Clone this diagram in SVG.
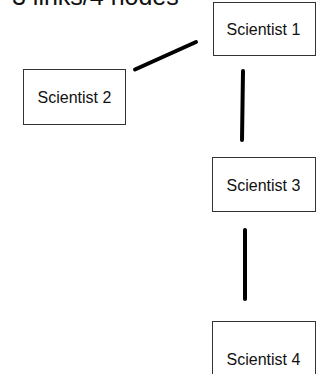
<svg xmlns="http://www.w3.org/2000/svg" width="323" height="374" viewBox="0 0 323 374">
<style>
.box{fill:#fff;stroke:#333;stroke-width:1}
.lbl{font-family:"Liberation Sans",Arial,sans-serif;font-size:16px;fill:#111;text-anchor:middle}
.title{font-family:"Liberation Sans",Arial,sans-serif;font-size:25px;fill:#111}
.link{stroke:#000;stroke-width:4;stroke-linecap:round;fill:none}
</style>
<rect width="323" height="374" fill="#fff"/>
<text class="title" x="12" y="5">3 links/4 nodes</text>
<g id="connectors">
<line class="link" x1="135" y1="69.5" x2="196" y2="42"/>
<line class="link" x1="243" y1="71" x2="242" y2="140"/>
<line class="link" x1="245" y1="230" x2="245" y2="299"/>
</g>
<g id="scientist1"><rect class="box" x="213.5" y="2.5" width="102" height="53"/><text class="lbl" x="263.5" y="35">Scientist 1</text></g>
<g id="scientist2"><rect class="box" x="23.5" y="69.5" width="102" height="55"/><text class="lbl" x="74.5" y="103">Scientist 2</text></g>
<g id="scientist3"><rect class="box" x="212.5" y="157.5" width="103" height="54"/><text class="lbl" x="263.5" y="191">Scientist 3</text></g>
<g id="scientist4"><rect class="box" x="212.5" y="321.5" width="103" height="56"/><text class="lbl" x="263.5" y="365">Scientist 4</text></g>
</svg>
